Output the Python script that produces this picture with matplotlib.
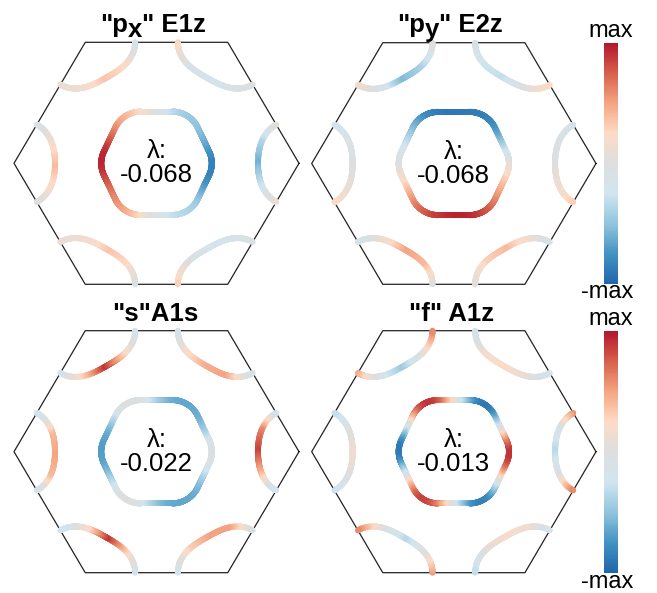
import numpy as np
import matplotlib
matplotlib.use("Agg")
import matplotlib.pyplot as plt
from matplotlib.collections import LineCollection
from matplotlib.colors import LinearSegmentedColormap, Normalize
from matplotlib.cm import ScalarMappable

plt.rcParams['font.family'] = ['Liberation Sans', 'DejaVu Sans']

W, H = 657, 593

# ---- panel text -------------------------------------------------------------
title_pieces = [('"p', 'x', '" E1z'),
                ('"p', 'y', '" E2z'),
                ('"s"A1s', '', ''),
                ('"f" A1z', '', '')]
eigenvalues = ["-0.068", "-0.068", "-0.022", "-0.013"]

# ---- gap on the Gamma pocket, sampled at 0, 30, ..., 330 deg (units of max) --
gamma_px = [-0.85, -0.6, -0.45, -0.1, 0.35, 0.7, 0.95, 0.7, 0.45, -0.05, -0.35, -0.6]
gamma_py = [0.1, -0.5, -0.85, -0.9, -0.8, -0.4, -0.05, 0.35, 0.75, 0.95, 0.85, 0.5]
gamma_s = [-0.05, -0.45, -0.65, -0.45, 0.0, -0.45, -0.7, -0.45, 0.0, -0.45, -0.65, -0.45]
gamma_f = [0.9, 0.0, -0.9, 0.0, 0.9, 0.0, -0.9, 0.0, 0.85, 0.0, -0.85, 0.0]

# ---- gap on the K pockets: corners k = 0..5 counterclockwise from +kx,
#      5 samples across each pocket (psi = -60, -30, 0, 30, 60 deg) ------------
kpock_px = [[0.1, -0.35, -0.6, -0.3, 0.1],
            [0.3, -0.05, -0.2, -0.15, -0.05],
            [0.1, 0.15, 0.35, 0.25, -0.1],
            [-0.05, 0.2, 0.4, 0.2, -0.1],
            [-0.1, 0.25, 0.35, 0.15, 0.1],
            [-0.05, -0.15, -0.2, -0.05, 0.3]]
kpock_py = [[-0.2, -0.08, 0.0, 0.12, 0.3],
            [-0.05, -0.25, -0.3, 0.0, 0.25],
            [0.2, -0.1, -0.55, -0.4, 0.0],
            [0.25, 0.1, 0.0, -0.1, -0.2],
            [0.0, 0.4, 0.5, 0.15, -0.15],
            [-0.15, 0.15, 0.4, 0.3, 0.05]]
kpock_s = [[-0.25, 0.6, 0.85, 0.45, -0.25],
           [-0.2, 0.2, 0.45, 0.5, -0.15],
           [-0.25, 0.3, 0.9, 0.3, -0.2],
           [-0.25, 0.4, 0.5, 0.4, -0.25],
           [-0.25, 0.3, 0.9, 0.2, -0.25],
           [-0.15, 0.5, 0.5, 0.3, -0.2]]
kpock_f = [[0.6, -0.1, -0.35, -0.1, 0.6],
           [-0.25, 0.15, 0.25, 0.1, -0.2],
           [0.5, -0.15, -0.45, 0.0, 0.6],
           [-0.3, 0.0, 0.15, 0.0, -0.3],
           [0.55, 0.0, -0.35, -0.05, 0.6],
           [-0.2, 0.15, 0.2, 0.05, -0.3]]

gamma_gaps = [gamma_px, gamma_py, gamma_s, gamma_f]
k_gaps = [kpock_px, kpock_py, kpock_s, kpock_f]
psi_samples = [-60, -30, 0, 30, 60]

# Fermi surface geometry (BZ corner radius = 1)
# Gamma pocket: rounded hexagon (core polygon half-extents a, b, c; rounding rho)
GAMMA_A, GAMMA_B, GAMMA_C, GAMMA_RHO = 0.19, 0.11, 0.172, 0.198
K_R_HORIZ = (0.288, 0.32)   # (centre, edge) radius of pockets at k = 0, 3
K_R_DIAG = (0.293, 0.35)    # pockets at k = 1, 2, 4, 5

cmap = LinearSegmentedColormap.from_list(
    'gap', ['#2166ac', '#4393c3', '#92c5de', '#d1e5f0', '#dedede',
            '#fddbc7', '#f4a582', '#d6604d', '#b2182b'])
norm = Normalize(-1, 1)

# panel boxes in pixels: (x0, y0, x1, y1) of the hexagon bounding box
panel_px = [(14, 42.3, 299, 284.3), (311.7, 42.7, 596, 284.3),
            (14, 330.7, 299, 572.7), (311.7, 330.7, 596, 572.7)]
title_left = [100, 397, 112, 409]
title_base = [32.3, 32.3, 321, 321]

LW = 4.3
TS = 18.5
HH = np.sqrt(3) / 2

fig = plt.figure(figsize=(W / 100, H / 100), dpi=100)


def px_axes(x0, y0, x1, y1):
    return fig.add_axes([x0 / W, 1 - y1 / H, (x1 - x0) / W, (y1 - y0) / H])


def periodic_interp(samples, theta_deg):
    s = np.asarray(samples, float)
    n = len(s)
    c = np.fft.rfft(s) / n
    t = np.deg2rad(theta_deg)
    out = np.full_like(t, c[0].real)
    for m in range(1, len(c)):
        w = 1 if (n % 2 == 0 and m == n // 2) else 2
        out = out + w * (c[m].real * np.cos(m * t) - c[m].imag * np.sin(m * t))
    return np.clip(out, -1, 1)


def rounded_polygon(verts, rho, n_dir=4000, n_out=1440):
    phi = np.linspace(0, 2 * np.pi, n_dir, endpoint=False)
    nrm = np.column_stack([np.cos(phi), np.sin(phi)])
    idx = np.argmax(nrm @ verts.T, axis=1)
    pts = verts[idx] + rho * nrm
    pts = np.vstack([pts, pts[:1]])
    seg = np.hypot(*np.diff(pts, axis=0).T)
    s = np.concatenate([[0], np.cumsum(seg)])
    su = np.linspace(0, s[-1], n_out)
    return np.interp(su, s, pts[:, 0]), np.interp(su, s, pts[:, 1])


def colored_line(ax, x, y, v):
    pts = np.column_stack([x, y])
    segs = np.stack([pts[:-1], pts[1:]], axis=1)
    vm = 0.5 * (v[:-1] + v[1:])
    lc = LineCollection(segs, cmap=cmap, norm=norm, linewidths=LW,
                        capstyle='round', joinstyle='round', clip_on=False,
                        zorder=3)
    lc.set_array(vm)
    ax.add_collection(lc)


core = np.array([[GAMMA_A, 0], [GAMMA_B, GAMMA_C], [-GAMMA_B, GAMMA_C],
                 [-GAMMA_A, 0], [-GAMMA_B, -GAMMA_C], [GAMMA_B, -GAMMA_C]])
gx, gy = rounded_polygon(core, GAMMA_RHO)
gtheta = np.degrees(np.arctan2(gy, gx)) % 360

for i, ax_box in enumerate(panel_px):
    ax = px_axes(*ax_box)
    ax.set_xlim(-1, 1)
    ax.set_ylim(-HH, HH)
    ax.axis('off')

    # Brillouin zone
    ang = np.deg2rad(np.arange(0, 420, 60))
    ax.plot(np.cos(ang), np.sin(ang), color='#222222', lw=0.9,
            clip_on=False, zorder=2)

    # Gamma pocket
    colored_line(ax, gx, gy, periodic_interp(gamma_gaps[i], gtheta))

    # K pockets
    psi = np.linspace(-60, 60, 161)
    for k in range(6):
        thk = np.deg2rad(60 * k)
        r_mid, r_edge = K_R_HORIZ if k in (0, 3) else K_R_DIAG
        rr = r_mid + (r_edge - r_mid) * (1 - np.cos(np.deg2rad(3 * psi))) / 2
        a = thk + np.pi + np.deg2rad(psi)
        x = np.cos(thk) + rr * np.cos(a)
        y = np.sin(thk) + rr * np.sin(a)
        colored_line(ax, x, y, np.interp(psi, psi_samples, k_gaps[i][k]))

    ax.text(0, 0, 'λ:\n' + eigenvalues[i], ha='center', va='center',
            fontsize=18.5, linespacing=1.0, multialignment='center')

    # title, with the orbital letter set lower
    pre, sub, post = title_pieces[i]
    t1 = fig.text(title_left[i] / W, 1 - title_base[i] / H, pre, ha='left',
                  va='baseline', fontsize=TS, fontweight='bold')
    if sub:
        t2 = ax.annotate(sub, xy=(1, 0), xycoords=t1, xytext=(0, -3.5),
                         textcoords='offset points', ha='left', va='bottom',
                         fontsize=TS, fontweight='bold', annotation_clip=False)
        ax.annotate(post, xy=(1, 0), xycoords=(t2, t1), ha='left', va='bottom',
                    fontsize=TS, fontweight='bold', annotation_clip=False)

# colour bars
for (y0, y1), top_base, bot_base in [((42.7, 284.3), 37.3, 298),
                                     ((331, 572.7), 325, 588.5)]:
    cax = px_axes(604, y0, 618.3, y1)
    cb = fig.colorbar(ScalarMappable(norm=norm, cmap=cmap), cax=cax)
    cb.set_ticks([])
    cb.outline.set_visible(False)
    fig.text(611 / W, 1 - top_base / H, 'max', ha='center', va='baseline',
             fontsize=17)
    fig.text(607 / W, 1 - bot_base / H, '-max', ha='center', va='baseline',
             fontsize=17)

fig.savefig('out.png', dpi=100)
